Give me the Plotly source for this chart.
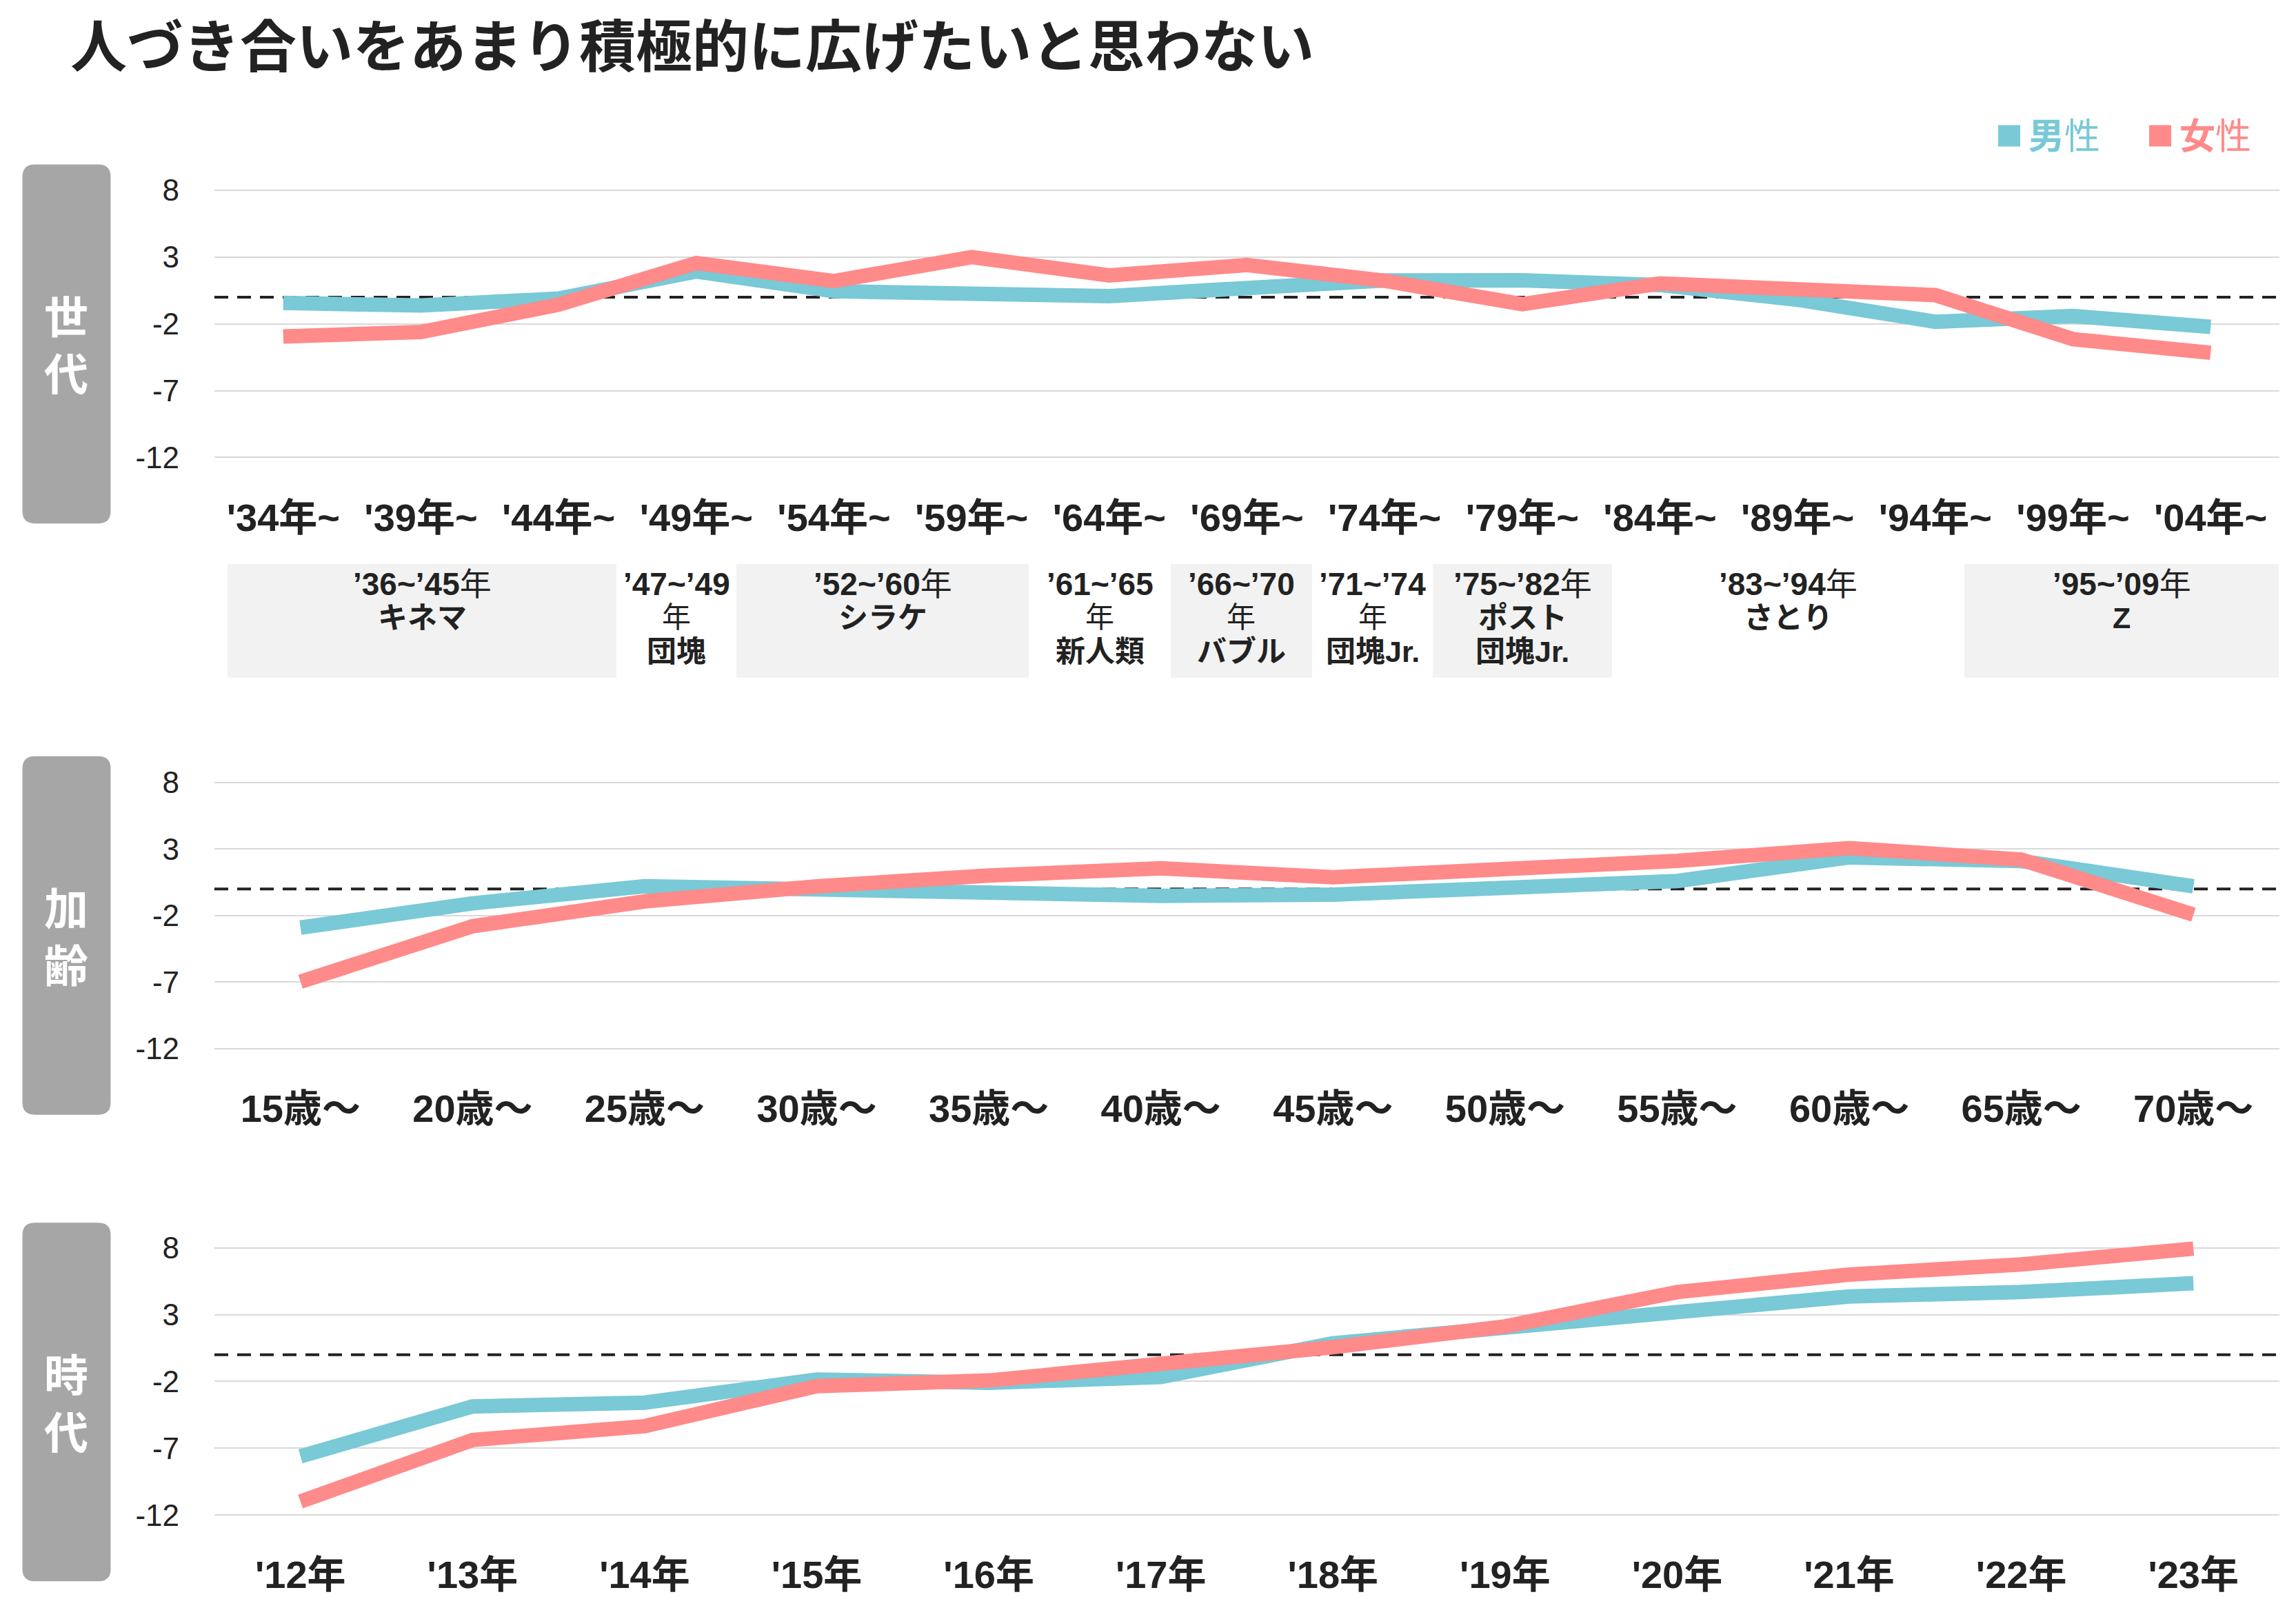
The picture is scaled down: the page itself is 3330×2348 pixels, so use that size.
import plotly.graph_objects as go

# ---------------- data ----------------
title_text = "人づき合いをあまり積極的に広げたいと思わない"
series_names = ["男性", "女性"]

gen_categories = ["'34年~", "'39年~", "'44年~", "'49年~", "'54年~", "'59年~", "'64年~", "'69年~",
                  "'74年~", "'79年~", "'84年~", "'89年~", "'94年~", "'99年~", "'04年~"]
gen_male = [-0.43, -0.62, -0.1, 1.93, 0.45, 0.16, 0.08, 0.69, 1.25, 1.27, 0.91, -0.19, -1.84, -1.41, -2.22]
gen_female = [-2.94, -2.61, -0.56, 2.56, 1.21, 3.0, 1.63, 2.41, 1.23, -0.52, 1.03, 0.73, 0.16, -3.14, -4.16]

age_categories = ["15歳～", "20歳～", "25歳～", "30歳～", "35歳～", "40歳～",
                  "45歳～", "50歳～", "55歳～", "60歳～", "65歳～", "70歳～"]
age_male = [-2.91, -1.09, 0.2, -0.08, -0.35, -0.52, -0.43, 0.1, 0.59, 2.37, 2.09, 0.19]
age_female = [-6.98, -2.81, -0.94, 0.19, 1.0, 1.55, 0.87, 1.5, 2.11, 3.07, 2.2, -1.94]

era_categories = ["'12年", "'13年", "'14年", "'15年", "'16年", "'17年",
                  "'18年", "'19年", "'20年", "'21年", "'22年", "'23年"]
era_male = [-7.61, -3.87, -3.59, -1.86, -2.1, -1.67, 0.86, 2.08, 3.38, 4.36, 4.69, 5.35]
era_female = [-10.99, -6.38, -5.35, -2.35, -1.93, -0.8, 0.56, 2.12, 4.69, 6.0, 6.76, 7.94]

y_tickvals = [8, 3, -2, -7, -12]
y_ticktext = ["8", "3", "-2", "-7", "-12"]

panel_labels = [["世", "代"], ["加", "齢"], ["時", "代"]]

generation_years = ["’36~’45年", "’47~’49", "’52~’60年", "’61~’65", "’66~’70",
                    "’71~’74", "’75~’82年", "’83~’94年", "’95~’09年"]
generation_names = [["キネマ"], ["年", "団塊"], ["シラケ"], ["年", "新人類"], ["年", "バブル"],
                    ["年", "団塊Jr."], ["ポスト", "団塊Jr."], ["さとり"], ["Z"]]
generation_shaded = [True, False, True, False, True, False, True, False, True]

# ---------------- styling / layout ----------------
W, H = 3330, 2348
MALE_C = "#79C9D6"
FEMALE_C = "#FF8A8A"
TXT = "#222222"
FONT = "Liberation Sans, Arial, Noto Sans CJK JP, sans-serif"
CJK = "Noto Sans CJK JP, sans-serif"

# vertical calibration of target pixel positions
VS, VO = 0.9932, 13.6


def fx(px):
    return px / W


def fy(py):
    return 1 - ((py - VO) / VS) / H


YR = [-14.8, 8.5]
panels = [
    (gen_categories, gen_male, gen_female, (716, 264.9), "", (237, 757.5)),
    (age_categories, age_male, age_female, (1572.6, 1123.3), "2", (1095, 1614.6)),
    (era_categories, era_male, era_female, (2249.1, 1797.9), "3", (1771, 2291)),
]

fig = go.Figure()
shapes = []
annotations = []
layout_axes = {}

for i, (cats, male, female, (yb, yt), sfx, (bt, bb)) in enumerate(panels):
    xa = "x" + sfx
    ya = "y" + sfx
    fig.add_trace(go.Scatter(x=cats, y=male, mode="lines", name=series_names[0],
                             line=dict(color=MALE_C, width=21), xaxis=xa, yaxis=ya,
                             showlegend=False))
    fig.add_trace(go.Scatter(x=cats, y=female, mode="lines", name=series_names[1],
                             line=dict(color=FEMALE_C, width=21), xaxis=xa, yaxis=ya,
                             showlegend=False))
    layout_axes["xaxis" + sfx] = dict(
        domain=[fx(311), fx(3306)], anchor=ya, type="category",
        range=[-0.5, len(cats) - 0.5], showgrid=False, showline=False, zeroline=False,
        ticks="", tickfont=dict(family=FONT, size=56, color=TXT),
        tickprefix="<b>", ticksuffix="</b>", ticklabelstandoff=-5,
    )
    layout_axes["yaxis" + sfx] = dict(
        domain=[fy(yb), fy(yt)], anchor=xa, range=YR,
        tickvals=y_tickvals, ticktext=y_ticktext,
        showgrid=True, gridcolor="#D9D9D9", gridwidth=2,
        zeroline=False, showline=False, ticks="",
        tickfont=dict(family=FONT, size=44, color=TXT), ticklabelstandoff=50,
    )
    # dashed zero line
    shapes.append(dict(type="line", xref=xa + " domain", yref=ya, x0=0, x1=1, y0=0, y1=0,
                       line=dict(color="#222222", width=4, dash="20px,13px"), layer="below"))
    # grey rounded label box
    x0, x1 = fx(32.5), fx(160.5)
    y0, y1 = fy(bb), fy(bt)
    rx, ry = 18 / W, 18 / H
    path = (f"M {x0 + rx},{y1} L {x1 - rx},{y1} Q {x1},{y1} {x1},{y1 - ry} "
            f"L {x1},{y0 + ry} Q {x1},{y0} {x1 - rx},{y0} L {x0 + rx},{y0} "
            f"Q {x0},{y0} {x0},{y0 + ry} L {x0},{y1 - ry} Q {x0},{y1} {x0 + rx},{y1} Z")
    shapes.append(dict(type="path", xref="paper", yref="paper", path=path,
                       fillcolor="#A6A6A6", line=dict(width=0)))
    mid = (bt + bb) / 2
    annotations.append(dict(xref="paper", yref="paper", x=fx(96), y=fy(mid - 2),
                            text="<br>".join(f"<b>{ch}</b>" for ch in panel_labels[i]),
                            showarrow=False, xanchor="center", yanchor="middle",
                            font=dict(family=CJK, size=64, color="white")))

# generation boxes
box_edges = [330, 894, 1068, 1492, 1698, 1903, 2078, 2338, 2849, 3305]
for k in range(len(generation_years)):
    xl, xr = box_edges[k], box_edges[k + 1]
    if generation_shaded[k]:
        shapes.append(dict(type="rect", xref="paper", yref="paper", x0=fx(xl), x1=fx(xr),
                           y0=fy(981), y1=fy(816), fillcolor="#F2F2F2", line=dict(width=0),
                           layer="below"))
    cx = fx((xl + xr) / 2)
    yrs = generation_years[k]
    if yrs.endswith("年"):
        t1 = f"<b>{yrs[:-1]}</b>年"
    else:
        t1 = f"<b>{yrs}</b>"
    lines = [(t1, 46)]
    for nm in generation_names[k]:
        lines.append((nm, 42) if nm == "年" else (f"<b>{nm}</b>", 43))
    for j, (t, sz) in enumerate(lines):
        annotations.append(dict(xref="paper", yref="paper", x=cx, y=fy(845 + 49 * j), text=t,
                                showarrow=False, xanchor="center", yanchor="middle",
                                font=dict(family=FONT, size=sz, color=TXT)))

# title
annotations.append(dict(xref="paper", yref="paper", x=fx(100), y=fy(60), text=f"<b>{title_text}</b>",
                        showarrow=False, xanchor="left", yanchor="middle",
                        font=dict(family=CJK, size=82, color=TXT)))

# legend
legend_items = [(2898, MALE_C, "<b>男</b>性"), (3117, FEMALE_C, "<b>女</b>性")]
for xs, col, txt in legend_items:
    shapes.append(dict(type="rect", xref="paper", yref="paper", x0=fx(xs), x1=fx(xs + 32),
                       y0=fy(211), y1=fy(180), fillcolor=col, line=dict(width=0)))
    annotations.append(dict(xref="paper", yref="paper", x=fx(xs + 42), y=fy(192), text=txt,
                            showarrow=False, xanchor="left", yanchor="middle",
                            font=dict(family=CJK, size=52, color=col)))

fig.update_layout(
    width=W, height=H, margin=dict(l=0, r=0, t=0, b=0),
    paper_bgcolor="white", plot_bgcolor="white",
    shapes=shapes, annotations=annotations, showlegend=False,
    **layout_axes,
)

fig.write_html("out.html")
